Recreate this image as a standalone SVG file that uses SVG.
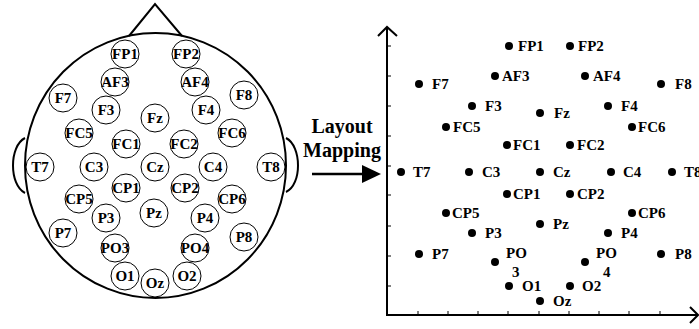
<svg xmlns="http://www.w3.org/2000/svg" width="699" height="329" viewBox="0 0 699 329">
  <style>
    .lbl { font-family: "Liberation Serif", "Times New Roman", serif; font-weight: bold; font-size: 15px; fill: #000; }
    .el circle { fill: #fff; stroke: #000; stroke-width: 1; }
    .el text { text-anchor: middle; dominant-baseline: central; }
    .pt circle { fill: #000; }
    .head { fill: none; stroke: #000; stroke-width: 2; }
    .axis { fill: none; stroke: #000; stroke-width: 2; }
    .tick { stroke: #000; stroke-width: 1; }
    .big { font-family: "Liberation Serif", "Times New Roman", serif; font-weight: bold; font-size: 20px; text-anchor: middle; }
  </style>

  <!-- head outline with nose and ears -->
  <g id="head">
    <path class="head" d="M25,138 C9,146 9,185 25,193"/>
    <path class="head" d="M286,138 C302,146 302,185 286,192"/>
    <ellipse class="head" cx="155.5" cy="165.5" rx="130.5" ry="132.5" fill="#fff"/>
    <path class="head" d="M129,36 L155,4 L182,36"/>
  </g>

  <!-- electrodes on the scalp -->
  <g id="e-FP1" class="el lbl"><circle cx="125" cy="54" r="14"/><text x="125" y="54">FP1</text></g>
  <g id="e-FP2" class="el lbl"><circle cx="186" cy="54" r="14"/><text x="186" y="54">FP2</text></g>
  <g id="e-AF3" class="el lbl"><circle cx="115" cy="82" r="14"/><text x="115" y="82">AF3</text></g>
  <g id="e-AF4" class="el lbl"><circle cx="195" cy="82" r="14"/><text x="195" y="82">AF4</text></g>
  <g id="e-F7" class="el lbl"><circle cx="63" cy="98" r="14"/><text x="63" y="98">F7</text></g>
  <g id="e-F8" class="el lbl"><circle cx="244" cy="95" r="14"/><text x="244" y="95">F8</text></g>
  <g id="e-F3" class="el lbl"><circle cx="106" cy="110" r="14"/><text x="106" y="110">F3</text></g>
  <g id="e-F4" class="el lbl"><circle cx="206" cy="110" r="14"/><text x="206" y="110">F4</text></g>
  <g id="e-Fz" class="el lbl"><circle cx="155" cy="118" r="14"/><text x="155" y="118">Fz</text></g>
  <g id="e-FC5" class="el lbl"><circle cx="79" cy="133" r="14"/><text x="79" y="133">FC5</text></g>
  <g id="e-FC6" class="el lbl"><circle cx="232" cy="133" r="14"/><text x="232" y="133">FC6</text></g>
  <g id="e-FC1" class="el lbl"><circle cx="126" cy="144" r="14"/><text x="126" y="144">FC1</text></g>
  <g id="e-FC2" class="el lbl"><circle cx="184" cy="144" r="14"/><text x="184" y="144">FC2</text></g>
  <g id="e-T7" class="el lbl"><circle cx="40" cy="167" r="14"/><text x="40" y="167">T7</text></g>
  <g id="e-C3" class="el lbl"><circle cx="94" cy="167" r="14"/><text x="94" y="167">C3</text></g>
  <g id="e-Cz" class="el lbl"><circle cx="155" cy="167" r="14"/><text x="155" y="167">Cz</text></g>
  <g id="e-C4" class="el lbl"><circle cx="213" cy="167" r="14"/><text x="213" y="167">C4</text></g>
  <g id="e-T8" class="el lbl"><circle cx="271" cy="167" r="14"/><text x="271" y="167">T8</text></g>
  <g id="e-CP1" class="el lbl"><circle cx="126" cy="188" r="14"/><text x="126" y="188">CP1</text></g>
  <g id="e-CP2" class="el lbl"><circle cx="185" cy="188" r="14"/><text x="185" y="188">CP2</text></g>
  <g id="e-CP5" class="el lbl"><circle cx="79" cy="199" r="14"/><text x="79" y="199">CP5</text></g>
  <g id="e-CP6" class="el lbl"><circle cx="232" cy="199" r="14"/><text x="232" y="199">CP6</text></g>
  <g id="e-Pz" class="el lbl"><circle cx="154" cy="213" r="14"/><text x="154" y="213">Pz</text></g>
  <g id="e-P3" class="el lbl"><circle cx="106" cy="218" r="14"/><text x="106" y="218">P3</text></g>
  <g id="e-P4" class="el lbl"><circle cx="205" cy="218" r="14"/><text x="205" y="218">P4</text></g>
  <g id="e-P7" class="el lbl"><circle cx="63" cy="233" r="14"/><text x="63" y="233">P7</text></g>
  <g id="e-P8" class="el lbl"><circle cx="244" cy="237" r="14"/><text x="244" y="237">P8</text></g>
  <g id="e-PO3" class="el lbl"><circle cx="115" cy="248" r="14"/><text x="115" y="248">PO3</text></g>
  <g id="e-PO4" class="el lbl"><circle cx="195" cy="248" r="14"/><text x="195" y="248">PO4</text></g>
  <g id="e-O1" class="el lbl"><circle cx="125" cy="276" r="14"/><text x="125" y="276">O1</text></g>
  <g id="e-Oz" class="el lbl"><circle cx="155" cy="283" r="14"/><text x="155" y="283">Oz</text></g>
  <g id="e-O2" class="el lbl"><circle cx="187" cy="276" r="14"/><text x="187" y="276">O2</text></g>

  <!-- mapping arrow and caption -->
  <g id="mapping">
    <text class="big" x="342" y="133">Layout</text>
    <text class="big" x="342" y="157">Mapping</text>
    <line x1="312" y1="174" x2="364" y2="174" stroke="#000" stroke-width="2.5"/>
    <path d="M362,165 L381,174 L362,183 Z" fill="#000"/>
  </g>

  <!-- grid axes -->
  <g id="axes">
    <path class="axis" d="M387,315 L387,27"/>
    <path class="axis" d="M378,36 L387,27 L397,36"/>
    <path class="axis" d="M386,315 L697,315"/>
    <path class="axis" d="M690,307 L698,315 L690,323"/>
    <g class="tick">
      <line x1="418" y1="315" x2="418" y2="311"/>
      <line x1="448" y1="315" x2="448" y2="311"/>
      <line x1="478" y1="315" x2="478" y2="311"/>
      <line x1="508" y1="315" x2="508" y2="311"/>
      <line x1="539" y1="315" x2="539" y2="311"/>
      <line x1="569" y1="315" x2="569" y2="311"/>
      <line x1="599" y1="315" x2="599" y2="311"/>
      <line x1="629" y1="315" x2="629" y2="311"/>
      <line x1="660" y1="315" x2="660" y2="311"/>
      <line x1="387" y1="46" x2="391" y2="46"/>
      <line x1="387" y1="76" x2="391" y2="76"/>
      <line x1="387" y1="106" x2="391" y2="106"/>
      <line x1="387" y1="136" x2="391" y2="136"/>
      <line x1="387" y1="166" x2="391" y2="166"/>
      <line x1="387" y1="195" x2="391" y2="195"/>
      <line x1="387" y1="226" x2="391" y2="226"/>
      <line x1="387" y1="256" x2="391" y2="256"/>
      <line x1="387" y1="286" x2="391" y2="286"/>
    </g>
  </g>

  <!-- electrodes mapped onto the grid -->
  <g id="p-FP1" class="pt lbl"><circle cx="509" cy="46" r="4"/><text x="518" y="51">FP1</text></g>
  <g id="p-FP2" class="pt lbl"><circle cx="570" cy="46" r="4"/><text x="578" y="51">FP2</text></g>
  <g id="p-AF3" class="pt lbl"><circle cx="495" cy="76" r="4"/><text x="502" y="81">AF3</text></g>
  <g id="p-AF4" class="pt lbl"><circle cx="585" cy="76" r="4"/><text x="593" y="81">AF4</text></g>
  <g id="p-F7" class="pt lbl"><circle cx="419" cy="84" r="4"/><text x="432" y="89">F7</text></g>
  <g id="p-F8" class="pt lbl"><circle cx="661" cy="84" r="4"/><text x="675" y="89">F8</text></g>
  <g id="p-F3" class="pt lbl"><circle cx="472" cy="106" r="4"/><text x="485" y="111">F3</text></g>
  <g id="p-F4" class="pt lbl"><circle cx="608" cy="106" r="4"/><text x="621" y="111">F4</text></g>
  <g id="p-Fz" class="pt lbl"><circle cx="540" cy="113" r="4"/><text x="554" y="118">Fz</text></g>
  <g id="p-FC5" class="pt lbl"><circle cx="446" cy="127" r="4"/><text x="453" y="132">FC5</text></g>
  <g id="p-FC6" class="pt lbl"><circle cx="632" cy="127" r="4"/><text x="638" y="132">FC6</text></g>
  <g id="p-FC1" class="pt lbl"><circle cx="507" cy="145" r="4"/><text x="513" y="150">FC1</text></g>
  <g id="p-FC2" class="pt lbl"><circle cx="570" cy="145" r="4"/><text x="577" y="150">FC2</text></g>
  <g id="p-T7" class="pt lbl"><circle cx="401" cy="172" r="4"/><text x="413" y="177">T7</text></g>
  <g id="p-C3" class="pt lbl"><circle cx="469" cy="172" r="4"/><text x="482" y="177">C3</text></g>
  <g id="p-Cz" class="pt lbl"><circle cx="540" cy="172" r="4"/><text x="553" y="177">Cz</text></g>
  <g id="p-C4" class="pt lbl"><circle cx="611" cy="172" r="4"/><text x="623" y="177">C4</text></g>
  <g id="p-T8" class="pt lbl"><circle cx="672" cy="172" r="4"/><text x="684" y="177">T8</text></g>
  <g id="p-CP1" class="pt lbl"><circle cx="507" cy="194" r="4"/><text x="513" y="199">CP1</text></g>
  <g id="p-CP2" class="pt lbl"><circle cx="570" cy="194" r="4"/><text x="577" y="199">CP2</text></g>
  <g id="p-CP5" class="pt lbl"><circle cx="446" cy="213" r="4"/><text x="452" y="218">CP5</text></g>
  <g id="p-CP6" class="pt lbl"><circle cx="632" cy="213" r="4"/><text x="638" y="218">CP6</text></g>
  <g id="p-Pz" class="pt lbl"><circle cx="540" cy="224" r="4"/><text x="553" y="229">Pz</text></g>
  <g id="p-P3" class="pt lbl"><circle cx="472" cy="233" r="4"/><text x="485" y="238">P3</text></g>
  <g id="p-P4" class="pt lbl"><circle cx="608" cy="233" r="4"/><text x="621" y="238">P4</text></g>
  <g id="p-P7" class="pt lbl"><circle cx="419" cy="254" r="4"/><text x="432" y="259">P7</text></g>
  <g id="p-P8" class="pt lbl"><circle cx="661" cy="254" r="4"/><text x="675" y="259">P8</text></g>
  <g id="p-PO3" class="pt lbl"><circle cx="495" cy="262" r="4"/><text x="506" y="258">PO</text><text x="512" y="277">3</text></g>
  <g id="p-PO4" class="pt lbl"><circle cx="585" cy="262" r="4"/><text x="596" y="258">PO</text><text x="603" y="277">4</text></g>
  <g id="p-O1" class="pt lbl"><circle cx="509" cy="286" r="4"/><text x="522" y="291">O1</text></g>
  <g id="p-O2" class="pt lbl"><circle cx="570" cy="286" r="4"/><text x="582" y="291">O2</text></g>
  <g id="p-Oz" class="pt lbl"><circle cx="540" cy="301" r="4"/><text x="553" y="306">Oz</text></g>
</svg>
